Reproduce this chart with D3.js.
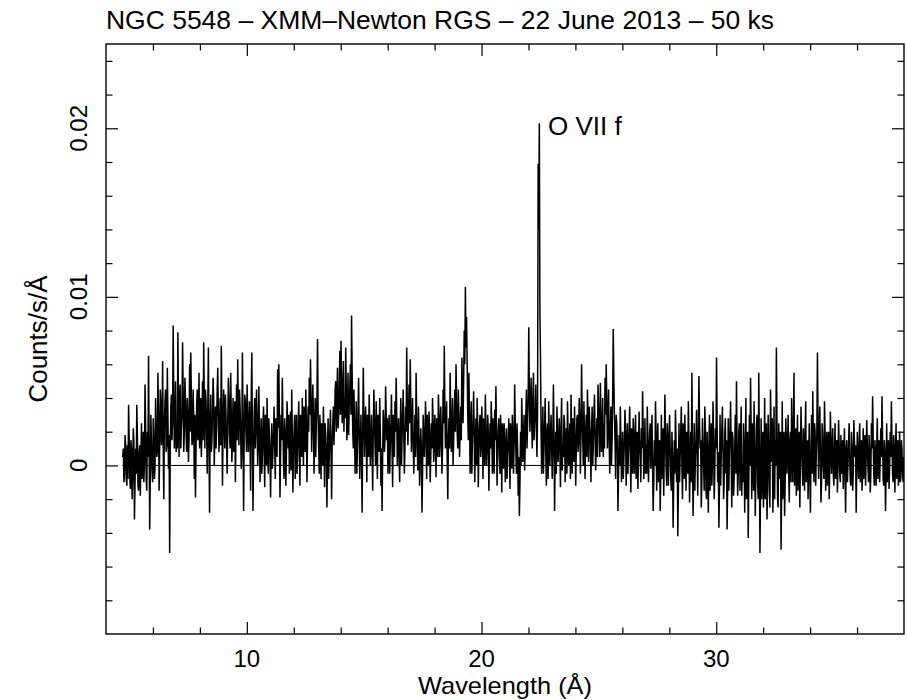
<!DOCTYPE html>
<html><head><meta charset="utf-8">
<script src="https://cdn.jsdelivr.net/npm/d3@7"></script>
<style>
body{margin:0;background:#fff}
text{font-family:"Liberation Sans",Arial,Helvetica,sans-serif;fill:#000}
</style>
</head><body>
<svg id="chart" width="907" height="700"></svg>
<script>
// ---- data ----
const title = "NGC 5548 – XMM–Newton RGS – 22 June 2013 – 50 ks";
const xLabel = "Wavelength (Å)";
const yLabel = "Counts/s/Å";
const lineLabel = "O VII f";
const lineLabelWavelength = 22.45;
const lineLabelValue = 0.0203;
const xDomain = [4, 38];
const yDomain = [-0.01, 0.025];
const xMajorTicks = [10, 20, 30];
const xMinorTicks = [6, 8, 12, 14, 16, 18, 22, 24, 26, 28, 32, 34, 36];
const yMajorTicks = [0, 0.01, 0.02];
const yTickLabels = ["0", "0.01", "0.02"];
const yMinorTicks = [-0.008, -0.006, -0.004, -0.002, 0.002, 0.004, 0.006, 0.008, 0.012, 0.014, 0.016, 0.018, 0.022, 0.024];
const binStart = 4.70;      // Å, first bin
const binWidth = 0.025;     // Å
const countUnit = 1e-4;     // counts below are in units of 1e-4 counts/s/Å
// bins 0,2,4,... (4.700, 4.750, ...)
const countsEvenBins = [
  5,-10,18,-8,12,36,
  -6,15,-20,22,-32,10,36,-12,8,-18,25,2,-10,48,-8,20,65,-38,30,-4,
  28,-8,40,5,55,-15,45,12,62,-20,38,8,58,-2,-52,35,15,83,10,50,
  20,79,5,48,22,73,8,52,18,40,2,60,67,12,45,-8,-19,35,15,55,
  25,5,50,73,10,38,-5,70,-28,42,15,52,0,35,22,58,8,40,71,-12,
  45,10,30,-5,52,18,55,2,40,25,-10,48,63,12,35,-2,67,-27,42,20,
  48,8,38,-15,67,-27,30,10,45,0,47,-10,28,5,35,-13,22,40,-5,18,
  -19,25,8,35,-8,20,57,60,-19,30,52,2,28,-12,38,10,-5,32,45,-16,
  20,-8,30,5,38,-12,22,40,0,28,45,-10,35,52,63,8,48,-5,40,25,
  75,10,30,-8,22,35,-13,18,-25,28,5,33,-20,25,12,45,20,58,30,68,
  74,25,62,40,70,15,55,35,60,89,20,45,-5,38,10,52,-8,30,-28,58,
  5,35,-10,25,42,0,30,-15,45,12,38,-8,20,40,-12,-27,33,8,47,15,
  -5,30,10,42,-13,25,38,52,0,28,-10,40,15,45,-5,35,70,12,48,63,
  8,40,-5,30,55,10,35,-12,22,-28,30,5,38,-8,18,32,-10,25,40,2,
  30,-7,22,42,5,35,-5,45,71,10,38,-20,28,55,8,40,15,45,60,20,
  45,5,35,64,25,80,106,88,30,55,-5,38,15,44,-10,28,40,-13,25,5,
  35,-8,20,42,0,30,-15,25,38,-5,15,33,47,-12,22,5,30,-16,18,25,
  -10,22,5,28,-14,15,30,-5,48,8,25,-18,-30,20,40,2,30,12,45,25,
  82,20,52,10,55,25,48,5,179,203,64,-5,35,10,40,-12,25,38,0,30,
  -8,48,-27,20,35,2,28,-13,40,12,30,-10,22,38,0,25,42,-5,15,35,
  -12,28,8,40,-5,60,15,38,-8,30,45,2,25,-10,35,12,42,-3,28,48,
  20,49,8,40,25,52,60,10,45,-5,35,15,81,30,-8,25,-27,18,35,-10,
  20,2,33,-12,25,8,35,-16,15,28,-5,30,10,-14,32,5,22,44,-8,28,
  12,35,-10,20,-2,30,-27,15,38,-15,25,5,-27,30,12,-18,42,0,25,-12,
  30,-8,20,-37,15,33,-10,-42,25,5,35,-20,18,30,-15,10,38,-22,20,55,
  -30,25,5,33,-18,53,10,-25,28,0,35,-15,20,-28,30,8,-12,38,-20,22,
  64,-10,-37,30,5,35,-20,18,-5,-38,28,10,38,-25,15,-8,30,50,-18,20,
  -15,35,0,25,-28,40,8,-43,30,52,-20,15,38,-30,22,-10,55,-52,28,5,
  -25,40,10,-32,30,-12,45,2,-28,35,15,70,-20,25,-8,-50,38,5,-30,28,
  -5,30,-22,20,40,-10,55,5,-18,30,10,-25,35,0,22,-15,38,8,-20,25,
  -28,30,44,-10,20,5,67,-8,35,-22,25,0,38,-15,20,10,-20,32,-5,22,
  -12,25,5,-16,27,-5,18,8,-14,22,-28,15,0,25,-10,20,-15,27,5,-28,
  20,-8,25,3,-15,22,10,-12,27,0,18,-16,25,41,-5,15,-12,28,5,-10,
  22,41,-8,15,-27,25,5,-14,20,38,-5,18,-16,25,2,-12,20,-8,10,-10
];
// bins 1,3,5,... (4.725, 4.775, ...)
const countsOddBins = [
  10,-5,12,-12,-8,15,
  -14,10,-6,14,-10,-5,18,-15,12,5,-8,20,0,25,-15,5,15,-5,12,-10,
  15,-2,22,8,30,10,38,20,10,25,45,12,30,18,8,42,28,40,25,8,
  10,35,42,10,30,45,20,38,8,30,15,20,40,15,28,30,12,45,22,10,
  40,18,15,40,45,20,35,12,25,8,30,40,18,10,45,30,20,12,35,20,
  30,42,12,25,40,10,30,15,8,38,20,15,30,45,20,10,25,18,38,8,
  30,20,12,40,20,5,40,22,28,10,22,12,-5,25,8,30,0,15,28,5,
  10,-2,20,12,28,5,22,30,5,15,25,-8,18,8,25,30,12,-3,20,8,
  30,12,-5,25,10,30,5,18,35,8,25,15,20,30,40,25,30,15,5,40,
  30,-5,15,25,0,12,25,5,10,-8,20,8,15,35,25,50,35,22,45,30,
  50,40,20,28,45,30,18,45,30,55,10,25,15,-5,30,20,12,5,20,30,
  20,15,30,5,22,15,8,20,30,0,20,30,8,20,10,5,25,15,32,28,
  15,-5,25,10,30,5,20,30,15,5,25,0,30,18,10,20,35,28,25,35,
  22,15,10,5,28,-3,15,5,10,-5,20,15,25,30,0,20,5,10,25,18,
  10,28,5,30,15,20,10,25,35,20,5,15,10,30,22,0,30,20,38,10,
  25,20,15,45,50,60,70,60,15,30,20,-5,25,20,12,0,22,10,30,15,
  15,28,0,22,10,20,5,10,25,28,-5,15,20,8,28,-5,12,25,-2,15,
  8,-8,15,10,25,-2,18,12,25,-5,10,5,-10,0,22,15,-3,30,10,40,
  45,35,25,40,15,30,20,30,140,90,20,15,-5,25,8,20,-8,15,20,10,
  15,20,5,-5,20,15,10,22,-3,5,25,8,-5,20,12,-8,18,28,2,15,
  10,30,15,25,20,32,0,15,20,5,28,35,12,20,0,30,18,10,5,35,
  5,30,20,5,10,30,38,25,15,22,0,40,50,15,30,10,-5,0,15,5,
  -8,15,20,5,-5,20,10,22,-5,12,18,-8,20,5,15,-10,10,20,5,-5,
  -5,15,5,25,10,0,-10,0,20,8,-10,15,-5,-8,22,10,20,-12,10,18,
  10,-15,5,-10,-5,15,10,-15,-10,20,0,25,-8,10,20,-5,15,0,-10,10,
  -5,-15,15,5,20,25,15,-10,12,-15,22,-20,5,10,-15,25,0,15,-5,10,
  25,8,-15,-12,20,10,-10,28,15,-10,-15,22,5,20,-18,10,-5,15,-5,25,
  10,-18,-10,10,5,-20,20,-10,0,20,25,-15,10,-5,30,-20,10,-15,-20,20,
  -5,-20,25,-15,15,-25,20,28,-10,-20,0,25,-25,10,20,-15,-20,20,-10,15,
  10,-5,15,-10,15,20,-12,22,8,-15,20,5,15,-12,10,20,-10,15,0,-5,
  5,-5,15,25,-12,20,25,15,10,-10,15,-8,20,5,-12,20,0,15,10,-5,
  10,-8,15,0,12,-10,-5,15,5,-5,10,-10,12,5,-12,10,-5,15,12,0,
  5,12,-10,15,-5,-8,18,5,12,-10,8,-5,10,15,-12,5,10,-8,15,5,
  5,15,-12,8,-5,-10,15,0,5,15,-10,5,10,-8,15,0,-10,15,-5,5
];

// ---- layout ----
const frame = {left: 106, right: 904, top: 44, bottom: 634};
const fontSize = 26, tickFontSize = 24, xLabelFontSize = 24;
const majorLen = 12, minorLen = 6.5;

const svg = d3.select("#chart");
const x = d3.scaleLinear().domain(xDomain).range([frame.left, frame.right]);
const y = d3.scaleLinear().domain(yDomain).range([frame.bottom, frame.top]);

svg.append("defs").append("clipPath").attr("id","clip")
  .append("rect").attr("x",frame.left).attr("y",frame.top)
  .attr("width",frame.right-frame.left).attr("height",frame.bottom-frame.top);

// spectrum points (bin centres), interleaving even and odd bins
const pts = [];
countsEvenBins.forEach((c,i)=>{
  pts.push({w: binStart + (2*i+0.5)*binWidth, v: c*countUnit});
  pts.push({w: binStart + (2*i+1.5)*binWidth, v: countsOddBins[i]*countUnit});
});
const nBins = countsEvenBins.length*2;

const g = svg.append("g").attr("clip-path","url(#clip)");
g.append("line")
  .attr("x1", x(binStart)).attr("x2", x(binStart + nBins*binWidth))
  .attr("y1", y(0)).attr("y2", y(0))
  .attr("stroke","#000").attr("stroke-width",1);
g.append("path").datum(pts)
  .attr("fill","none").attr("stroke","#000").attr("stroke-width",1.5)
  .attr("stroke-linejoin","miter").attr("stroke-miterlimit",1.5)
  .attr("d", d3.line().x(d=>x(d.w)).y(d=>y(d.v)));

// axes ticks (inward), all four sides
function styleAxis(sel){
  sel.select(".domain").remove();
  sel.selectAll(".tick line").attr("stroke","#000").attr("stroke-width",1.2);
  sel.selectAll(".tick text").remove();
}
const fmtNone = () => "";
const sides = [
  [d3.axisBottom, x, `translate(0,${frame.bottom})`, xMajorTicks, xMinorTicks],
  [d3.axisTop, x, `translate(0,${frame.top})`, xMajorTicks, xMinorTicks],
  [d3.axisLeft, y, `translate(${frame.left},0)`, yMajorTicks, yMinorTicks],
  [d3.axisRight, y, `translate(${frame.right},0)`, yMajorTicks, yMinorTicks]
];
sides.forEach(([axisFn, sc, tr, major, minor])=>{
  svg.append("g").attr("transform",tr)
    .call(axisFn(sc).tickValues(major).tickSizeInner(-majorLen).tickSizeOuter(0).tickFormat(fmtNone)).call(styleAxis);
  svg.append("g").attr("transform",tr)
    .call(axisFn(sc).tickValues(minor).tickSizeInner(-minorLen).tickSizeOuter(0).tickFormat(fmtNone)).call(styleAxis);
});

// frame
svg.append("rect").attr("x",frame.left).attr("y",frame.top)
  .attr("width",frame.right-frame.left).attr("height",frame.bottom-frame.top)
  .attr("fill","none").attr("stroke","#000").attr("stroke-width",1.4);

// tick labels
svg.append("g").selectAll("text").data(xMajorTicks).join("text")
  .attr("x", d=>x(d)).attr("y", frame.bottom + 33)
  .attr("text-anchor","middle").attr("font-size",tickFontSize).text(d=>d);
svg.append("g").selectAll("text").data(yMajorTicks).join("text")
  .attr("transform", d=>`translate(${frame.left-19},${y(d)}) rotate(-90)`)
  .attr("text-anchor","middle").attr("font-size",tickFontSize)
  .text((d,i)=>yTickLabels[i]);

// axis titles
svg.append("text").attr("x",(frame.left+frame.right)/2).attr("y",frame.bottom+60)
  .attr("text-anchor","middle").attr("font-size",xLabelFontSize)
  .attr("textLength",174).attr("lengthAdjust","spacingAndGlyphs").text(xLabel);
svg.append("text")
  .attr("transform",`translate(${frame.left-59},${(frame.top+frame.bottom)/2}) rotate(-90)`)
  .attr("text-anchor","middle").attr("font-size",fontSize).text(yLabel);
svg.append("text").attr("x",frame.left).attr("y",frame.top-15)
  .attr("font-size",fontSize).attr("textLength",668).attr("lengthAdjust","spacingAndGlyphs").text(title);

// line annotation
svg.append("text").attr("x", x(lineLabelWavelength)+9).attr("y", y(lineLabelValue)+12)
  .attr("font-size",fontSize).text(lineLabel);
</script>
</body></html>
